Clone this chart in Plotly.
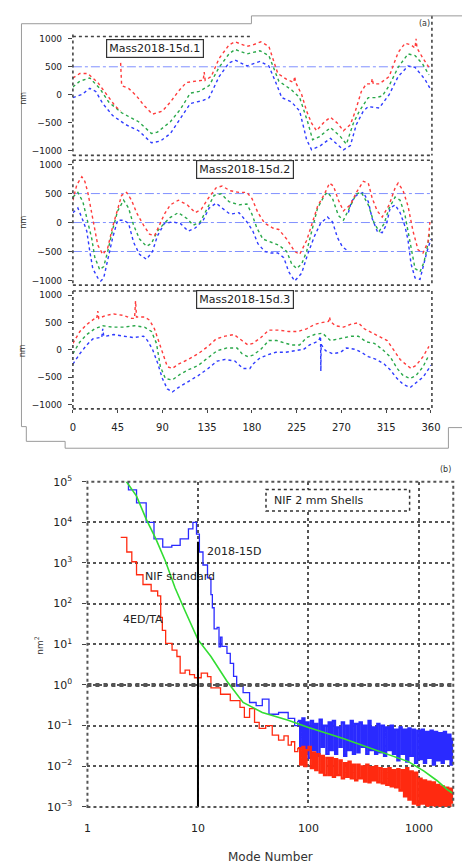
import plotly.graph_objects as go

W, H = 472, 865

# ---------------- panel (a) data: deviation (nm) vs angle (deg) ----------------
p1_red_deg = [0, 7, 15, 25, 35, 43, 48, None, 48, 49, 56, 64, 71, 80, 90, 98, 106, 114, 124, 131, 132, 133, 139, 147, 157, 163, 175, 181, 189, 197, 206, 215, 222, 223, 224, 230, 235, 240, 245, 253, 259, 266, 272, 279, 284, 290, 295, 300, 301, 302, 308, 318, 327, 334, 340, 344, 345, 346, 352, 358, 360]
p1_red_val = [300, 380, 380, 220, -20, -210, -290, None, 570, 165, 115, -20, -180, -345, -290, -130, 60, 220, 245, 260, 405, 260, 325, 650, 890, 945, 865, 890, 945, 865, 380, 275, 220, 330, 220, 5, -290, -505, -640, -480, -400, -505, -640, -530, -290, 60, 195, 195, 290, 195, 195, 325, 755, 920, 890, 835, 1000, 835, 650, 490, 470]
p1_green_deg = [0, 7, 17, 27, 36, 49, 66, 79, 85, 98, 108, 118, 127, 137, 147, 157, 163, 175, 188, 197, 207, 220, 228, 236, 241, 248, 259, 269, 275, 282, 288, 297, 305, 311, 318, 327, 337, 344, 352, 358]
p1_green_val = [140, 245, 300, 115, -130, -320, -480, -690, -665, -480, -260, 30, 60, 165, 490, 730, 810, 730, 785, 700, 245, 85, -50, -480, -800, -745, -585, -745, -880, -505, -290, -50, -50, -20, 165, 490, 730, 700, 540, 355]
p1_blue_deg = [0, 9, 17, 23, 30, 40, 53, 66, 79, 88, 98, 108, 118, 131, 137, 147, 157, 163, 175, 188, 197, 204, 210, 220, 228, 235, 240, 249, 259, 272, 279, 285, 292, 297, 308, 318, 327, 337, 344, 354, 360]
p1_blue_val = [-50, 5, 115, 60, -155, -370, -530, -640, -855, -825, -690, -425, -155, -100, -50, 325, 570, 620, 515, 595, 515, 220, -50, -130, -290, -800, -980, -905, -775, -980, -905, -530, -290, -210, -235, 5, 325, 515, 490, 275, 85]

p2_red_deg = [0, 4, 9, 12, 15, 19, 22, 25, 30, 35, 40, 45, 49, 54, 59, 64, 71, 77, 82, 87, 92, 98, 106, 115, 123, 129, 136, 144, 150, 158, 167, 175, 180, 186, 193, 201, 207, 215, 223, 228, 235, 241, 246, 253, 258, 262, 267, 272, 279, 285, 292, 297, 301, 306, 311, 318, 324, 327, 332, 337, 342, 347, 352, 357, 359]
p2_red_val = [385, 655, 790, 710, 520, 145, -95, -390, -550, -440, -70, 250, 470, 520, 385, 170, -45, -200, -230, -45, 145, 305, 385, 305, 170, 225, 415, 600, 630, 550, 520, 520, 415, 170, -15, -95, -120, -285, -500, -550, -310, 10, 280, 495, 680, 630, 385, 200, 305, 520, 710, 680, 415, 200, 95, 305, 600, 680, 550, 280, -150, -470, -525, -340, 10]
p2_green_deg = [0, 5, 10, 15, 19, 22, 27, 31, 35, 40, 45, 51, 56, 61, 67, 74, 79, 85, 92, 98, 106, 115, 121, 128, 134, 142, 149, 157, 167, 175, 180, 185, 191, 199, 207, 215, 220, 225, 230, 235, 241, 246, 253, 256, 261, 267, 272, 279, 285, 290, 297, 303, 308, 313, 318, 324, 329, 334, 339, 344, 349, 353, 357, 359]
p2_green_val = [440, 520, 360, -15, -280, -600, -815, -760, -500, -120, 200, 385, 250, -45, -285, -410, -360, -150, -10, 90, 170, 65, -45, 10, 200, 470, 495, 360, 305, 320, 145, -95, -285, -340, -390, -500, -715, -795, -715, -500, -95, 250, 470, 520, 415, 120, 40, 280, 495, 520, 305, -15, -150, -15, 250, 440, 385, 120, -310, -795, -850, -685, -365, -150]
p2_blue_deg = [0, 5, 10, 14, 17, 20, 25, 28, 31, 35, 40, 45, 51, 56, 61, 67, 74, 80, 85, 92, 100, 108, 116, 123, 131, 137, 144, 150, 158, 167, 175, 181, 186, 193, 199, 206, 212, 217, 223, 230, 236, 243, 249, 256, 261, 266, 271, 275, None, 277, 280, 285, 292, 297, 301, 306, 311, 315, 319, 324, 329, 334, 337, 340, 344, 349, 352, 356, 360]
p2_blue_val = [170, 250, 40, -150, -500, -795, -955, -1010, -955, -660, -260, 40, 40, -15, -340, -550, -635, -500, -230, -15, 10, -15, -150, -95, 40, 250, 335, 250, 145, 170, 10, -150, -365, -500, -525, -525, -605, -850, -1010, -875, -550, -230, -15, 95, 10, -260, -420, -470, None, 170, 360, 470, 520, 360, 65, -150, -175, -45, 250, 305, 170, -70, -310, -715, -955, -980, -765, -500, -285]

p3_red_deg = [0, 7, 14, 22, 24, 25, 26, 33, 41, 51, 59, 62, 63, 64, 72, 77, 82, 87, 92, 95, 100, 106, 116, 126, 136, 144, 153, 162, 170, 176, 181, 189, 197, 207, 217, 226, 235, 243, 249, 257, 258, 259, 264, 272, 279, 287, 293, 301, 310, 316, 323, 329, 336, 340, 345, 352, 358]
p3_red_val = [120, 335, 465, 575, 575, 710, 575, 630, 655, 630, 575, 575, 895, 600, 600, 545, 385, 120, -175, -310, -340, -260, -175, -70, 65, 200, 250, 280, 170, 90, 120, 225, 360, 360, 335, 335, 385, 465, 495, 520, 600, 520, 440, 415, 465, 495, 385, 305, 225, 170, -15, -175, -285, -340, -285, -125, 65]
p3_green_deg = [0, 7, 14, 22, 30, 40, 51, 62, 72, 79, 84, 88, 93, 100, 108, 116, 126, 136, 145, 155, 165, 170, 176, 181, 189, 197, 205, 214, 220, 228, 235, 243, 251, 259, 267, 274, 280, 287, 295, 303, 311, 319, 326, 332, 339, 345, 352, 358]
p3_green_val = [-70, 145, 280, 385, 440, 415, 415, 440, 415, 335, 120, -310, -525, -550, -445, -365, -285, -150, -15, 35, 35, -70, -125, -95, 10, 170, 170, 120, 90, 90, 225, 280, 305, 170, 200, 225, 250, 250, 145, 120, 10, -125, -340, -470, -525, -470, -310, -95]
p3_blue_deg = [0, 7, 14, 20, 27, 29, 30, 31, 33, 41, 51, 61, 71, 75, 80, 85, 90, 95, 100, 106, 116, 126, 136, 145, 153, 163, 171, 178, 181, 188, 196, 204, 214, 223, 232, 238, 245, 248, 249, 249.3, 249.6, 254, 261, 269, 275, 284, 290, 297, 305, 313, 319, 326, 332, 339, 345, 352, 358, 360]
p3_blue_val = [-260, -70, 90, 200, 225, 225, 385, 250, 250, 280, 250, 225, 250, 170, 10, -230, -525, -715, -770, -690, -580, -470, -340, -205, -175, -205, -340, -340, -260, -150, -90, -45, -45, -15, 10, 90, 145, 200, 250, -390, 100, -15, -70, -45, 35, 10, -45, -125, -175, -260, -365, -525, -630, -690, -605, -500, -340, -280]

panel_titles = ["Mass2018-15d.1", "Mass2018-15d.2", "Mass2018-15d.3"]
ref_levels = [[500], [500, 0, -500], []]
angle_ticks = [0, 45, 90, 135, 180, 225, 270, 315, 360]
dev_ticks = [1000, 500, 0, -500, -1000]
dev_ticktext = ["1000", "500", "0", "\u2212500", "\u22121000"]

# ---------------- panel (b) data: power spectrum (nm^2) vs mode number ----------------
blue_modes_lo = [2.0, 2.35, 2.78, 3.4, 4.0, 4.8, 5.8, 6.9, 8.2, 9.0, 9.7, 10.3, 11.1, 12.2, 13.1, 13.5, 14.0, 14.9, 15.5, 16.0, 16.5, 18.3, 19.6, 21.0, 22.4, 25.6, 29.3, 33.6, 38.2, 43.9, 53.6, 65.5, 75]
blue_vals_lo = [110000, 63000, 30000, 10000, 3900, 2450, 2700, 3900, 6900, 10000, 5100, 1860, 890, 430, 166, 79, 24, 26, 8.7, 15, 8.9, 6.0, 3.4, 1.62, 0.93, 0.65, 0.37, 0.31, 0.45, 0.19, 0.21, 0.15, 0.1]
red_modes_lo = [2.0, 2.27, 2.52, 2.78, 3.18, 3.77, 4.32, 4.6, 4.76, 5.1, 5.83, 6.45, 6.9, 7.65, 8.4, 9.3, 10.7, 12.2, 13.1, 16, 19.6, 24, 26.3, 29.3, 32.5, 35.8, 41, 47, 53.6, 60, 65.5, 70, 75]
red_vals_lo = [4270, 1860, 1070, 513, 295, 204, 155, 46, 22, 10.5, 7.2, 5.0, 1.95, 2.3, 1.8, 1.5, 1.95, 1.6, 0.85, 0.59, 0.41, 0.28, 0.16, 0.26, 0.12, 0.085, 0.1, 0.058, 0.044, 0.056, 0.033, 0.04, 0.023]
noise_modes = [80, 84, 88, 92, 96, 100, 105, 110, 115, 120, 126, 132, 138, 145, 152, 159, 166, 174, 182, 191, 200, 210, 220, 230, 241, 252, 264, 277, 290, 304, 318, 333, 349, 365, 382, 400, 419, 439, 460, 482, 505, 529, 554, 580, 607, 636, 666, 698, 731, 765, 801, 839, 879, 920, 964, 1010, 1057, 1107, 1160, 1215, 1272, 1332, 1395, 1461, 1530, 1602, 1678, 1757, 1840, 1927, 2000]
blue_noise = [0.13, 0.03, 0.15, 0.02, 0.12,
              0.016, 0.13, 0.025, 0.11, 0.018, 0.14, 0.03, 0.1, 0.02, 0.12,
              0.025, 0.13, 0.02, 0.09, 0.03, 0.12, 0.018, 0.1, 0.025, 0.13, 0.02,
              0.11, 0.022, 0.12, 0.03, 0.1, 0.02, 0.13, 0.025, 0.09, 0.02,
              0.11, 0.022, 0.1, 0.018, 0.09, 0.025, 0.1, 0.02, 0.08,
              0.014, 0.09, 0.02, 0.08, 0.013, 0.085, 0.018, 0.08, 0.012,
              0.075, 0.015, 0.08, 0.012, 0.07, 0.016, 0.075, 0.011, 0.07, 0.014, 0.065, 0.012, 0.07, 0.015, 0.06, 0.011, 0.05]
red_noise = [0.028, 0.011, 0.03, 0.01, 0.025,
             0.03, 0.009, 0.022, 0.008, 0.02, 0.007, 0.018, 0.006, 0.016, 0.006,
             0.016, 0.0055, 0.015, 0.006, 0.014, 0.005, 0.012, 0.0055, 0.013, 0.005, 0.011,
             0.0045, 0.011, 0.005, 0.01, 0.0042, 0.011, 0.004, 0.0095, 0.0045, 0.01,
             0.004, 0.009, 0.0038, 0.0085, 0.0035, 0.009, 0.0032, 0.008, 0.003,
             0.0085, 0.0025, 0.008, 0.0018, 0.009, 0.0015, 0.0075, 0.0012, 0.007,
             0.0011, 0.005, 0.0012, 0.0045, 0.001, 0.0042, 0.0011, 0.004, 0.001, 0.0035, 0.001, 0.0032, 0.001, 0.003, 0.001, 0.0028, 0.0012]
green_modes = [2.2, 2.78, 3.4, 4.16, 5.1, 6.2, 7.65, 9.3, 10, 13.1, 18.3, 25.6, 38.2, 65.5, 98.6, 206, 405, 800, 1110, 1460, 1790, 2000]
green_vals = [110000, 44000, 12000, 3900, 1070, 245, 66, 20, 13, 5.0, 1.23, 0.37, 0.21, 0.135, 0.091, 0.048, 0.025, 0.013, 0.0076, 0.0044, 0.0027, 0.0022]
cut_mode = [10, 10]
cut_range = [0.001, 3300]
mode_ticks = [1, 10, 100, 1000]
psd_ticks = [1e5, 1e4, 1e3, 1e2, 1e1, 1e0, 1e-1, 1e-2, 1e-3]
psd_ticktext = ["10<sup>5</sup>", "10<sup>4</sup>", "10<sup>3</sup>", "10<sup>2</sup>", "10<sup>1</sup>",
                "10<sup>0</sup>", "10<sup>\u22121</sup>", "10<sup>\u22122</sup>", "10<sup>\u22123</sup>"]

# ---------------- layout helpers (pixel -> paper) ----------------
def fx(px):
    return px / W

def fy(py):
    return 1 - py / H

RED, GREEN, BLUE = "#ff3b3b", "#2aa84a", "#2f3cff"
FONT = "DejaVu Sans, Liberation Sans, Arial, sans-serif"

panel_px = [(29, 150), (157, 282), (290, 408)]
XL, XR = 71, 440

fig = go.Figure()

panels = [
    (p1_red_deg, p1_red_val, p1_green_deg, p1_green_val, p1_blue_deg, p1_blue_val),
    (p2_red_deg, p2_red_val, p2_green_deg, p2_green_val, p2_blue_deg, p2_blue_val),
    (p3_red_deg, p3_red_val, p3_green_deg, p3_green_val, p3_blue_deg, p3_blue_val),
]

for i, (rd, rv, gd, gv, bd, bv) in enumerate(panels):
    xa = "x" if i == 0 else f"x{i+1}"
    ya = "y" if i == 0 else f"y{i+1}"
    for lvl in ref_levels[i]:
        fig.add_trace(go.Scatter(x=[angle_ticks[0], angle_ticks[-1]], y=[lvl, lvl], mode="lines",
                                 line=dict(color="#8090ff", width=1, dash="dashdot"),
                                 xaxis=xa, yaxis=ya, showlegend=False, hoverinfo="skip"))
    for d, v, c in ((bd, bv, BLUE), (gd, gv, GREEN), (rd, rv, RED)):
        fig.add_trace(go.Scatter(x=d, y=v, mode="lines", connectgaps=False,
                                 line=dict(color=c, width=1.4, dash="dot"),
                                 xaxis=xa, yaxis=ya, showlegend=False))

# spectrum traces: smooth low-mode parts, then dense noisy high-mode parts
SB, SR = "#2a2aff", "#ff2a10"
fig.add_trace(go.Scatter(x=blue_modes_lo + noise_modes[:1], y=blue_vals_lo + blue_noise[:1], mode="lines",
                         line=dict(color=SB, width=1.3, shape="hv"), xaxis="x4", yaxis="y4", showlegend=False))
fig.add_trace(go.Scatter(x=noise_modes, y=blue_noise, mode="lines",
                         line=dict(color=SB, width=2.2, shape="hv"), xaxis="x4", yaxis="y4", showlegend=False))
fig.add_trace(go.Scatter(x=red_modes_lo + noise_modes[:1], y=red_vals_lo + red_noise[:1], mode="lines",
                         line=dict(color=SR, width=1.3, shape="hv"), xaxis="x4", yaxis="y4", showlegend=False))
fig.add_trace(go.Scatter(x=noise_modes, y=red_noise, mode="lines",
                         line=dict(color=SR, width=2.2, shape="hv"), xaxis="x4", yaxis="y4", showlegend=False))
fig.add_trace(go.Scatter(x=green_modes, y=green_vals, mode="lines",
                         line=dict(color="#33dd33", width=1.6),
                         xaxis="x4", yaxis="y4", showlegend=False))
fig.add_trace(go.Scatter(x=cut_mode, y=cut_range, mode="lines",
                         line=dict(color="black", width=2),
                         xaxis="x4", yaxis="y4", showlegend=False))

tickfont = dict(family=FONT, size=10, color="#222")
layout = dict(width=W, height=H, margin=dict(l=0, r=0, t=0, b=0),
              paper_bgcolor="white", plot_bgcolor="white", showlegend=False)

for i, (top, bot) in enumerate(panel_px):
    sx = "" if i == 0 else str(i + 1)
    layout["xaxis" + sx] = dict(domain=[fx(XL), fx(XR)], range=[0, 360], anchor="y" + sx,
                                showgrid=False, zeroline=False, showline=False,
                                tickvals=angle_ticks if i == 2 else [],
                                ticks="outside" if i == 2 else "", ticklen=3,
                                ticklabelstandoff=6,
                                tickfont=tickfont, showticklabels=(i == 2))
    layout["yaxis" + sx] = dict(domain=[fy(bot), fy(top)], range=[-1080, 1040], anchor="x" + sx,
                                showgrid=False, zeroline=False, showline=False,
                                tickvals=dev_ticks, ticktext=dev_ticktext, ticks="outside",
                                ticklen=4, tickcolor="#444", tickfont=dict(family=FONT, size=9, color="#222"),
                                ticklabelstandoff=4)

layout["xaxis4"] = dict(domain=[fx(86), fx(463)], type="log", range=[0, 3.31], anchor="y4",
                        tickvals=mode_ticks, ticktext=[str(m) for m in mode_ticks],
                        showgrid=True, gridcolor="#555", gridwidth=2, griddash="dot",
                        zeroline=False, showline=False, ticks="", tickfont=dict(family=FONT, size=11, color="#222"),
                        ticklabelstandoff=13,
                        title=dict(text="Mode Number", font=dict(family=FONT, size=12, color="#333"), standoff=18))
layout["yaxis4"] = dict(domain=[fy(813), fy(482)], type="log", range=[-3, 5], anchor="x4",
                        tickvals=psd_ticks, ticktext=psd_ticktext,
                        showgrid=True, gridcolor="#555", gridwidth=2, griddash="dot",
                        zeroline=False, showline=False, ticks="outside", ticklen=4, tickcolor="#444",
                        ticklabelstandoff=8,
                        tickfont=dict(family=FONT, size=11, color="#222"))

shapes = []
dot = dict(color="#444", width=1.6, dash="dot")
# panel (a) boxes
for i, (top, bot) in enumerate(panel_px):
    left, right = fx(XL), fx(XR + 1)
    if i == 0:
        shapes.append(dict(type="line", xref="paper", yref="paper", x0=left, x1=fx(255), y0=fy(top), y1=fy(top), line=dot))
        shapes.append(dict(type="line", xref="paper", yref="paper", x0=right, x1=right, y0=fy(8), y1=fy(bot), line=dot))
    else:
        shapes.append(dict(type="line", xref="paper", yref="paper", x0=left, x1=right, y0=fy(top - 2), y1=fy(top - 2), line=dot))
        shapes.append(dict(type="line", xref="paper", yref="paper", x0=right, x1=right, y0=fy(top - 2), y1=fy(bot), line=dot))
    shapes.append(dict(type="line", xref="paper", yref="paper", x0=left, x1=left, y0=fy(top - 2), y1=fy(bot), line=dot))
    shapes.append(dict(type="line", xref="paper", yref="paper", x0=left, x1=right, y0=fy(bot), y1=fy(bot), line=dot))

# outer frame of panel (a)
frame = dict(color="#9a9a9a", width=1)
path = (f"M {fx(18)},{fy(16)} L {fx(255)},{fy(16)} L {fx(255)},{fy(8)} L {fx(472)},{fy(8)} "
        f"M {fx(18)},{fy(16)} L {fx(18)},{fy(426)} L {fx(23)},{fy(426)} L {fx(23)},{fy(441)} L {fx(63)},{fy(441)} "
        f"L {fx(63)},{fy(448)} L {fx(458)},{fy(448)} L {fx(458)},{fy(427)} L {fx(472)},{fy(427)}")
shapes.append(dict(type="path", xref="paper", yref="paper", path=path, line=frame))

# panel (b) box and thick unit line
shapes.append(dict(type="rect", xref="paper", yref="paper", x0=fx(86), x1=fx(463), y0=fy(813), y1=fy(482),
                   line=dict(color="#555", width=2, dash="dot")))
shapes.append(dict(type="line", xref="x4 domain", yref="y4", x0=0, x1=1, y0=1, y1=1,
                   line=dict(color="#555", width=4, dash="dot")))
# NIF box
shapes.append(dict(type="rect", xref="paper", yref="paper", x0=fx(270), x1=fx(418), y0=fy(512), y1=fy(490),
                   line=dict(color="#333", width=1.5, dash="dot"), fillcolor="white"))

annotations = []
box_centers = [(156, 41), (248, 164), (248, 297)]
for t, (cx, cy) in zip(panel_titles, box_centers):
    annotations.append(dict(xref="paper", yref="paper", x=fx(cx), y=fy(cy), xanchor="center", yanchor="middle",
                            text=t, showarrow=False,
                            font=dict(family=FONT, size=11, color="#222"), bgcolor="white",
                            bordercolor="#333", borderwidth=1.2, borderpad=2))
for cy in (92, 218, 349):
    annotations.append(dict(xref="paper", yref="paper", x=fx(20), y=fy(cy), xanchor="center", yanchor="middle",
                            text="nm", textangle=-90,
                            showarrow=False, font=dict(family=FONT, size=8, color="#333")))
annotations += [
    dict(xref="paper", yref="paper", x=fx(433), y=fy(16), xanchor="center", yanchor="middle", text="(a)",
         showarrow=False, font=dict(family=FONT, size=8, color="#333")),
    dict(xref="paper", yref="paper", x=fx(455), y=fy(470), xanchor="center", yanchor="middle", text="(b)",
         showarrow=False, font=dict(family=FONT, size=8, color="#333")),
    dict(xref="paper", yref="paper", x=fx(276), y=fy(501), yanchor="middle", text="NIF 2 mm Shells", showarrow=False,
         xanchor="left", font=dict(family=FONT, size=11, color="#222")),
    dict(xref="paper", yref="paper", x=fx(207), y=fy(553), yanchor="middle", text="2018-15D", showarrow=False,
         xanchor="left", font=dict(family=FONT, size=11, color="#222")),
    dict(xref="paper", yref="paper", x=fx(143), y=fy(579), yanchor="middle", text="NIF standard", showarrow=False,
         xanchor="left", font=dict(family=FONT, size=11, color="#222")),
    dict(xref="paper", yref="paper", x=fx(121), y=fy(622), yanchor="middle", text="4ED/TA", showarrow=False,
         xanchor="left", font=dict(family=FONT, size=11, color="#222")),
    dict(xref="paper", yref="paper", x=fx(36), y=fy(648), xanchor="center", yanchor="middle",
         text="nm<sup>2</sup>", textangle=-90,
         showarrow=False, font=dict(family=FONT, size=9, color="#333")),
]

layout["shapes"] = shapes
layout["annotations"] = annotations
fig.update_layout(**layout)
fig.write_html("out.html")
